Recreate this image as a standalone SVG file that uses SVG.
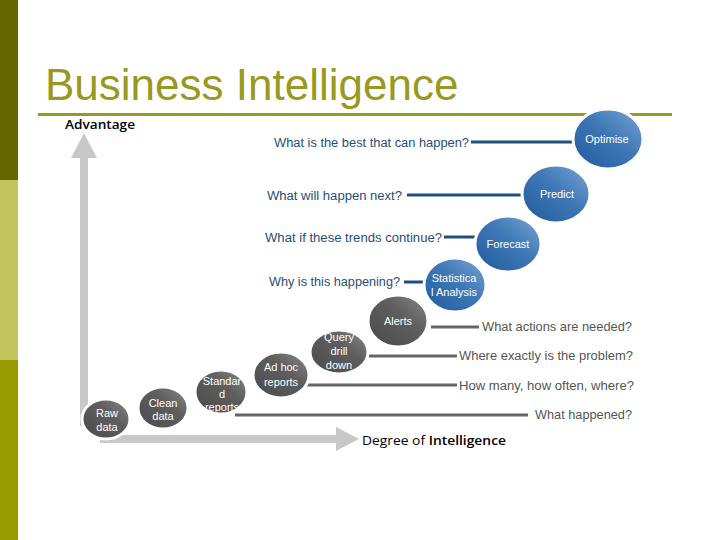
<svg xmlns="http://www.w3.org/2000/svg" width="720" height="540" viewBox="0 0 720 540">
<defs>
<linearGradient id="gGray" x1="0" y1="1" x2="1" y2="0">
<stop offset="0" stop-color="#4a4a4a"/>
<stop offset="0.6" stop-color="#5e5e5e"/>
<stop offset="1" stop-color="#8a8a8a"/>
</linearGradient>
<linearGradient id="gBlue" x1="0" y1="1" x2="1" y2="0">
<stop offset="0" stop-color="#1f5a9c"/>
<stop offset="0.55" stop-color="#3f78b6"/>
<stop offset="1" stop-color="#7aa6d6"/>
</linearGradient>
<style>
.title{font-family:"Liberation Sans",Arial,sans-serif;font-size:44px;fill:#999922}
.lab{font-family:"Open Sans","Liberation Sans",sans-serif;font-size:13px;font-weight:600;fill:#000}
.reg{font-weight:400}
.qb{font-family:"Liberation Sans",Arial,sans-serif;font-size:12.5px;fill:#1f4e79}
.qg{font-family:"Liberation Sans",Arial,sans-serif;font-size:12.5px;fill:#555}
.ct{font-family:"Liberation Sans",Arial,sans-serif;font-size:11px;fill:#fff;text-anchor:middle}
.gc{fill:url(#gGray);stroke:#fff;stroke-width:3}
.bc{fill:url(#gBlue);stroke:#fff;stroke-width:3}
.bl{stroke:#1f4e80;stroke-width:3}
.gl{stroke:#666;stroke-width:3}
</style>
</defs>
<rect x="0" y="0" width="18" height="180" fill="#666600"/>
<rect x="0" y="180" width="18" height="180" fill="#c4c45e"/>
<rect x="0" y="360" width="18" height="180" fill="#999900"/>
<text class="title" x="45" y="100">Business Intelligence</text>
<rect x="38" y="113" width="634" height="3" fill="#999922"/>
<text class="lab" x="65" y="129" textLength="70" lengthAdjust="spacingAndGlyphs">Advantage</text>
<text class="lab" x="362" y="445" textLength="144" lengthAdjust="spacingAndGlyphs"><tspan class="reg">Degree of </tspan>Intelligence</text>
<g id="axes" fill="#c8c8c8">
<rect x="80" y="156" width="8" height="270"/>
<polygon points="84,133 71,158 97,158"/>
<rect x="100" y="435" width="237" height="8"/>
<polygon points="359,439 336,427 336,451"/>
</g>
<g id="connectors">
<line class="bl" x1="471" y1="142" x2="572" y2="142"/>
<line class="bl" x1="407" y1="195" x2="522" y2="195"/>
<line class="bl" x1="444" y1="237" x2="476" y2="237"/>
<line class="bl" x1="404" y1="282" x2="424" y2="282"/>
<line class="gl" x1="431" y1="327" x2="479" y2="327"/>
<line class="gl" x1="365" y1="356" x2="457" y2="356"/>
<line class="gl" x1="300" y1="385" x2="457" y2="385"/>
<line class="gl" x1="235" y1="415" x2="528" y2="415"/>
</g>
<g id="questions">
<text class="qb" x="274" y="147" textLength="195" lengthAdjust="spacingAndGlyphs">What is the best that can happen?</text>
<text class="qb" x="267" y="200" textLength="135" lengthAdjust="spacingAndGlyphs">What will happen next?</text>
<text class="qb" x="265" y="242" textLength="177" lengthAdjust="spacingAndGlyphs">What if these trends continue?</text>
<text class="qb" x="269" y="286" textLength="131" lengthAdjust="spacingAndGlyphs">Why is this happening?</text>
<text class="qg" x="482" y="331" textLength="150" lengthAdjust="spacingAndGlyphs">What actions are needed?</text>
<text class="qg" x="459" y="360" textLength="174" lengthAdjust="spacingAndGlyphs">Where exactly is the problem?</text>
<text class="qg" x="459" y="390" textLength="175" lengthAdjust="spacingAndGlyphs">How many, how often, where?</text>
<text class="qg" x="535" y="419" textLength="97" lengthAdjust="spacingAndGlyphs">What happened?</text>
</g>
<g id="raw"><ellipse class="gc" cx="106" cy="419" rx="24" ry="20"/><text class="ct" x="107" y="417">Raw</text><text class="ct" x="107" y="431">data</text></g>
<g id="clean"><ellipse class="gc" cx="163" cy="408" rx="25" ry="21"/><text class="ct" x="163" y="407">Clean</text><text class="ct" x="163" y="420">data</text></g>
<g id="standard"><ellipse class="gc" cx="221" cy="392" rx="26" ry="22"/><text class="ct" x="222" y="385">Standar</text><text class="ct" x="222" y="398">d</text><text class="ct" x="222" y="411">reports</text></g>
<g id="adhoc"><ellipse class="gc" cx="281" cy="375" rx="28" ry="23"/><text class="ct" x="281" y="371">Ad hoc</text><text class="ct" x="281" y="386">reports</text></g>
<g id="query"><ellipse class="gc" cx="339" cy="352" rx="29" ry="22"/><text class="ct" x="339" y="341">Query</text><text class="ct" x="339" y="355">drill</text><text class="ct" x="339" y="369">down</text></g>
<g id="alerts"><ellipse class="gc" cx="398" cy="321" rx="30" ry="26"/><text class="ct" x="398" y="325">Alerts</text></g>
<g id="statistical"><ellipse class="bc" cx="455" cy="285" rx="31" ry="27"/><text class="ct" x="454" y="282">Statistica</text><text class="ct" x="454" y="296">l Analysis</text></g>
<g id="forecast"><ellipse class="bc" cx="508" cy="244" rx="33" ry="28"/><text class="ct" x="508" y="248">Forecast</text></g>
<g id="predict"><ellipse class="bc" cx="556" cy="194" rx="34" ry="29"/><text class="ct" x="557" y="198">Predict</text></g>
<g id="optimise"><ellipse class="bc" cx="608" cy="139" rx="35" ry="30"/><text class="ct" x="607" y="143">Optimise</text></g>
</svg>
